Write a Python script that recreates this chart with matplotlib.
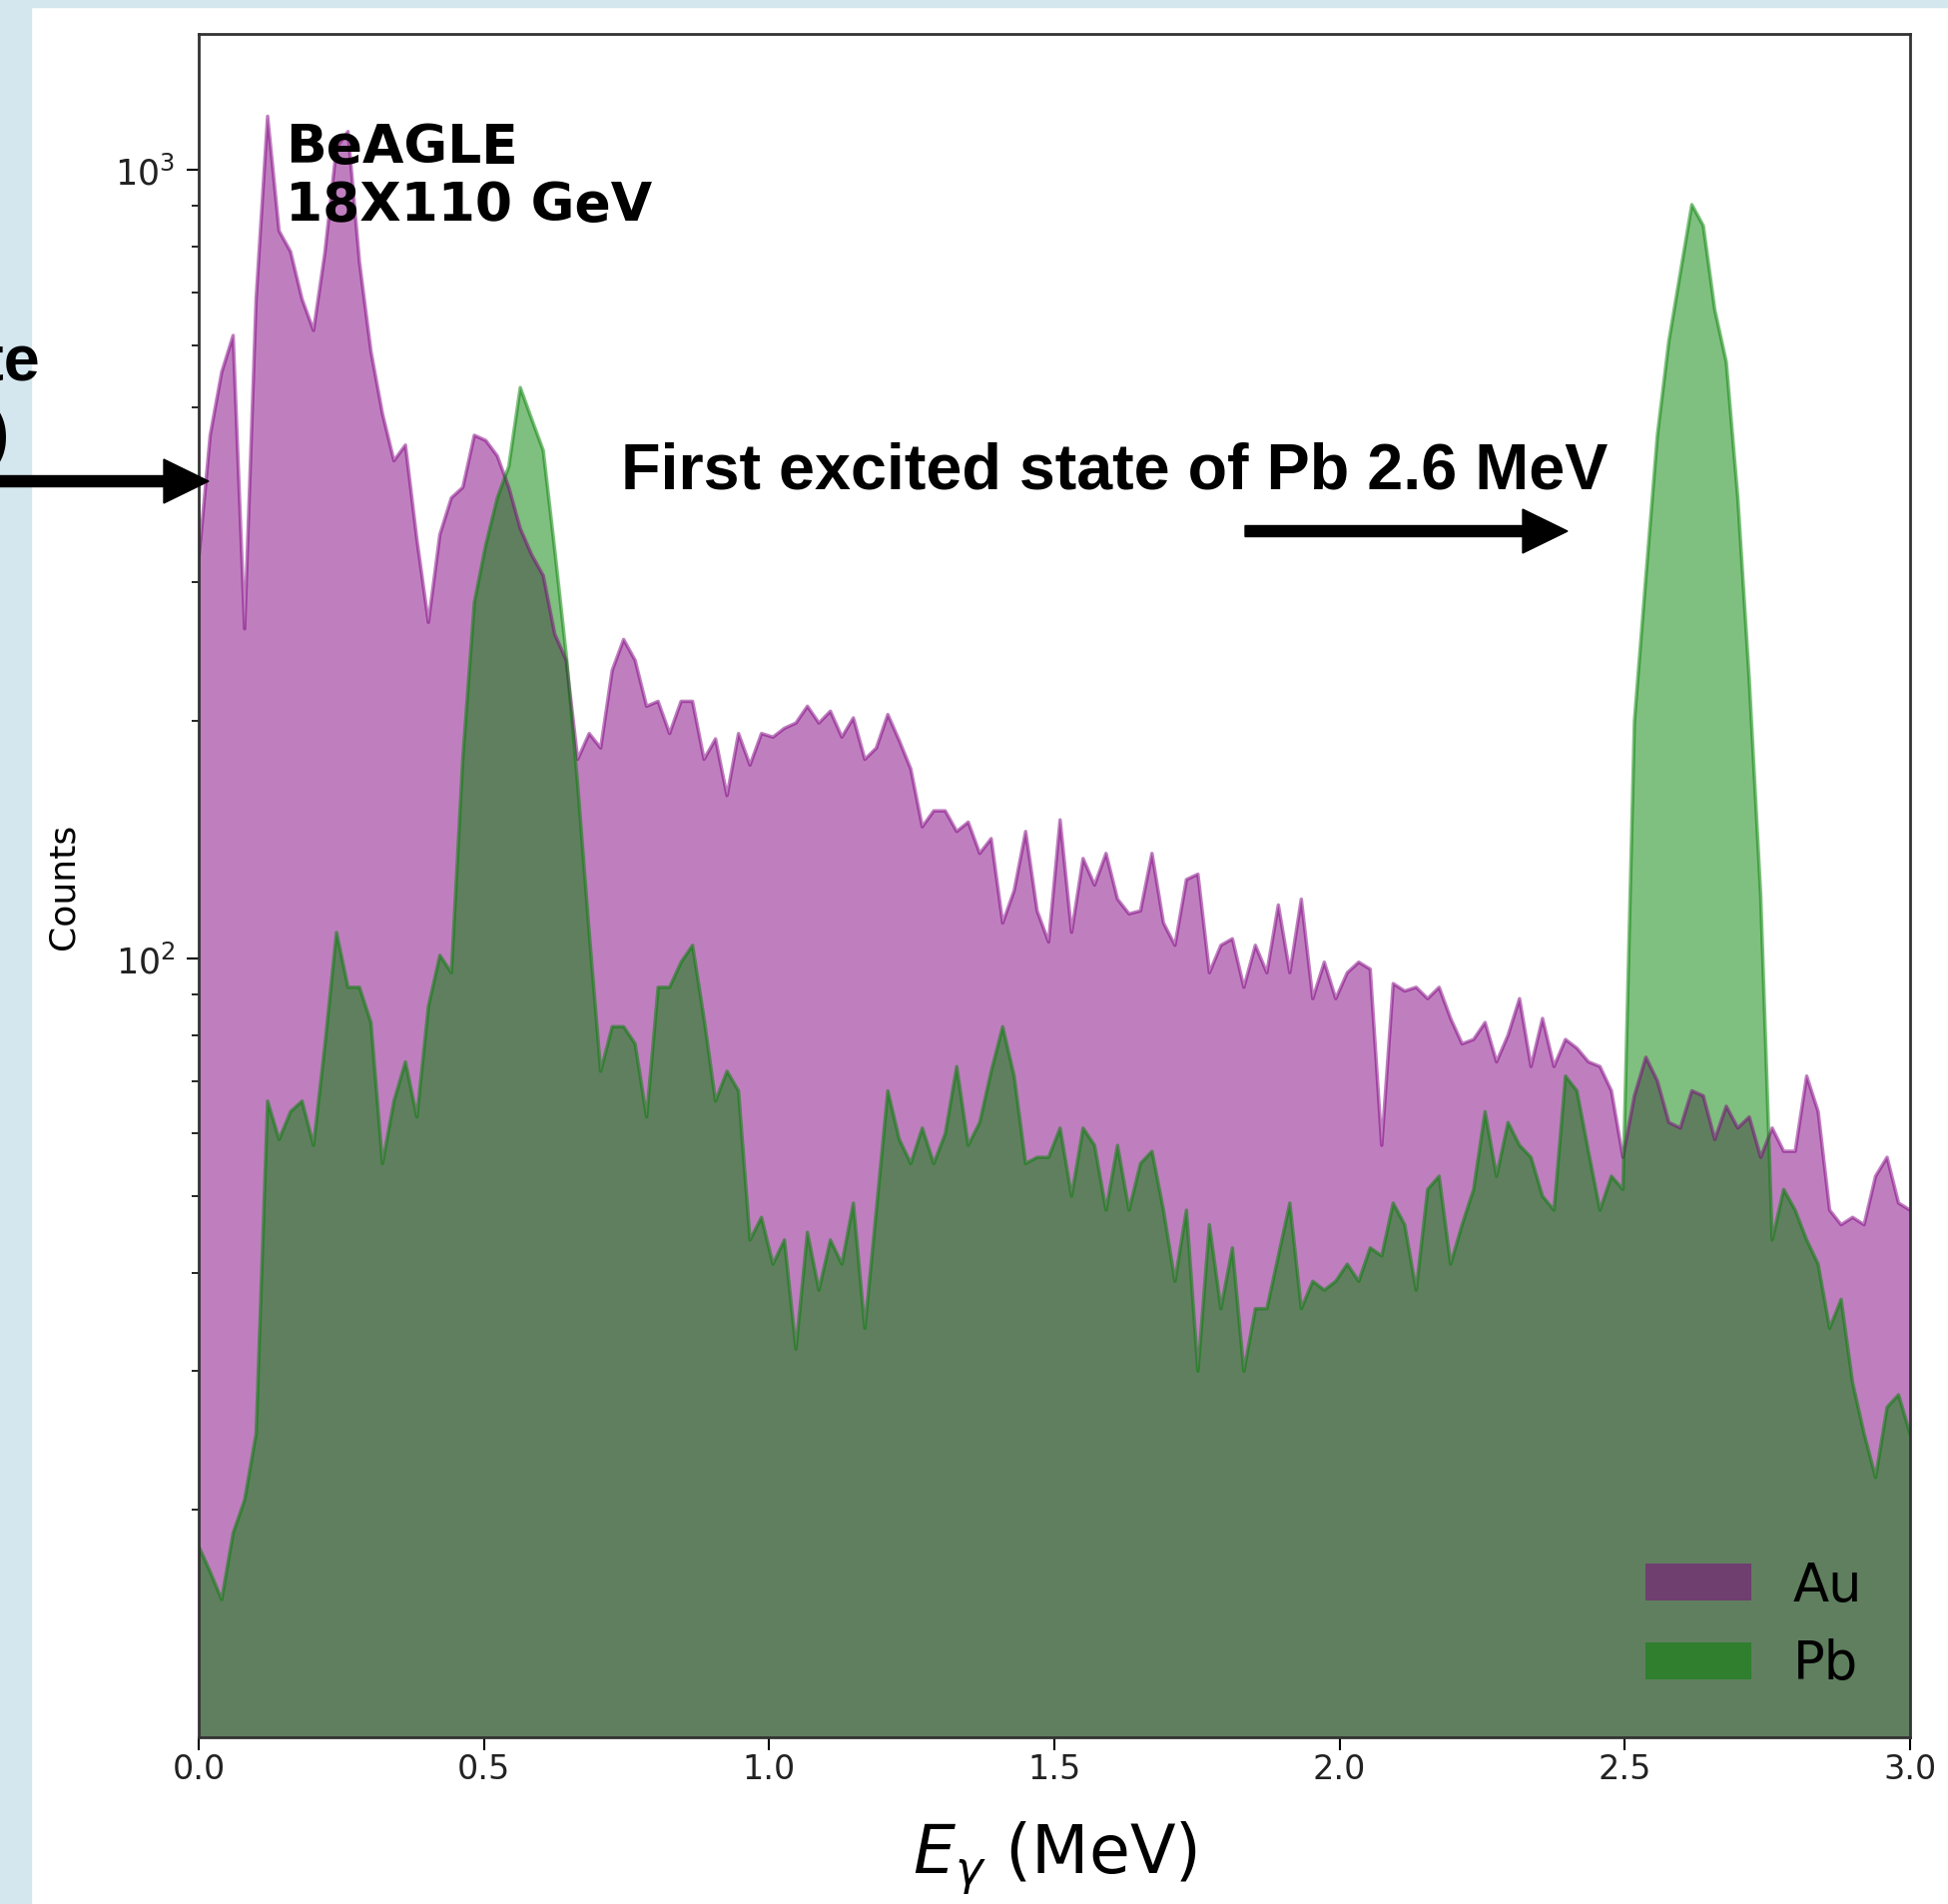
import numpy as np
import matplotlib
matplotlib.use("Agg")
import matplotlib.pyplot as plt
from matplotlib.patches import FancyArrow, Rectangle
from matplotlib.transforms import Affine2D


W, H = 1951, 1908

# gamma energy spectrum, 150 points spread over 0 to 3 MeV
E_MIN, E_MAX, N_BINS = 0.0, 3.0, 150

au_counts = [
    320, 461, 554, 617, 262, 686, 1170, 837, 788, 686,
    626, 788, 1068, 1119, 764, 589, 491, 428, 448, 340,
    267, 345, 384, 396, 461, 454, 434, 396, 351, 325,
    306, 258, 239, 179, 193, 185, 232, 254, 239, 209,
    212, 193, 212, 212, 179, 190, 161, 193, 176, 193,
    191, 196, 199, 209, 199, 206, 191, 202, 179, 185,
    204, 189, 174, 147, 154, 154, 145, 149, 136, 142,
    111, 122, 145, 115, 105, 150, 108, 134, 124, 136,
    119, 114, 115, 136, 111, 104, 126, 128, 96, 104,
    106, 92, 104, 96, 117, 96, 119, 89, 99, 89,
    96, 99, 97, 58, 93, 91, 92, 89, 92, 84,
    78, 79, 83, 74, 80, 89, 73, 84, 73, 79,
    77, 74, 73, 68, 56, 67, 75, 70, 62, 61,
    68, 67, 59, 65, 61, 63, 56, 61, 57, 57,
    71, 64, 48, 46, 47, 46, 53, 56, 49, 48,
]

pb_counts = [
    18, 16.7, 15.4, 18.7, 20.6, 25, 66, 59, 64, 66,
    58, 78, 108, 92, 92, 83, 55, 66, 74, 63,
    87, 101, 96, 180, 283, 335, 384, 421, 530, 483,
    441, 330, 243, 166, 108, 72, 82, 82, 78, 63,
    92, 92, 99, 104, 84, 66, 72, 68, 44, 47,
    41, 44, 32, 45, 38, 44, 41, 49, 34, 48,
    68, 59, 55, 61, 55, 60, 73, 58, 62, 72,
    82, 71, 55, 56, 56, 61, 50, 61, 58, 48,
    58, 48, 55, 57, 48, 39, 48, 30, 46, 36,
    43, 30, 36, 36, 42, 49, 36, 39, 38, 39,
    41, 39, 43, 42, 49, 46, 38, 51, 53, 41,
    46, 51, 64, 53, 62, 58, 56, 50, 48, 71,
    68, 57, 48, 53, 51, 200, 305, 461, 607, 741,
    904, 850, 665, 571, 385, 226, 120, 44, 51, 48,
    44, 41, 34, 37, 29, 25, 22, 27, 28, 25,
]

series_labels = ["Au", "Pb"]
series_colors = ["purple", "green"]
x_ticks = [0.0, 0.5, 1.0, 1.5, 2.0, 2.5, 3.0]


def main() -> None:
    fig = plt.figure(figsize=(W / 100, H / 100), dpi=100)
    fig.patch.set_facecolor("white")
    px = Affine2D().scale(1 / W, 1 / H) + fig.transFigure  # pixel coords, origin bottom-left

    # light blue frame of the screenshot
    fig.add_artist(Rectangle((0, 0), 31, H, transform=px, color="#d4e6ee", zorder=0))
    fig.add_artist(Rectangle((0, H - 8), W, 8, transform=px, color="#d4e6ee", zorder=0))

    ax = fig.add_axes([199 / W, 1 - 1741 / H, (1913 - 199) / W, (1741 - 34.5) / H])
    ax.set_yscale("log")

    energies = np.linspace(E_MIN, E_MAX, N_BINS)
    for counts, label, color in zip([au_counts, pb_counts], series_labels, series_colors):
        ax.fill_between(energies, 1, counts, color=color, alpha=0.5, linewidth=0, label=label)
        ax.plot(energies, counts, color=color, alpha=0.5, linewidth=2.5)

    ax.set_xlim(0, 3.0)
    ax.set_ylim(10.3, 1490)
    ax.set_xticks(x_ticks)

    ax.tick_params(axis="both", which="major", length=9, width=1.5, labelcolor="#222222")
    ax.tick_params(axis="x", which="major", labelsize=24, pad=2)
    ax.tick_params(axis="y", which="major", labelsize=25, pad=8)
    ax.tick_params(axis="y", which="minor", length=5, width=1.2)
    for spine in ax.spines.values():
        spine.set_linewidth(2)
        spine.set_color("#333333")

    ax.set_xlabel(r"$E_\gamma$ (MeV)", fontsize=48)
    ax.xaxis.set_label_coords(0.5, -0.048)
    ax.set_ylabel("Counts", fontsize=26)
    ax.yaxis.set_label_coords(-0.069, 0.5)

    ax.legend(loc="lower right", frameon=False, fontsize=38, borderaxespad=0.5)

    ax.text(0.0508, 0.9487, "BeAGLE\n18X110 GeV", transform=ax.transAxes,
            fontsize=38.5, fontweight="bold", family="DejaVu Sans", va="top", ha="left",
            linespacing=1.15, zorder=5)

    bold_arial = dict(family="Liberation Sans", fontweight="bold", fontsize=46.5, zorder=5)
    fig.text(622, H - 489, "First excited state of Pb 2.6 MeV", transform=px,
             ha="left", va="baseline", **bold_arial)
    fig.add_artist(FancyArrow(1247, H - 533, 1570 - 1247, 0, width=11, head_width=44,
                              head_length=45, length_includes_head=True, color="black",
                              transform=px, zorder=5))

    # annotation cut off at the left edge of the screenshot
    fig.text(40, H - 382, "state", transform=px, ha="right", va="baseline", **bold_arial)
    fig.text(10, H - 455, "(Au)", transform=px, ha="right", va="baseline", **bold_arial)
    fig.add_artist(FancyArrow(-10, H - 483, 219, 0, width=11, head_width=44,
                              head_length=45, length_includes_head=True, color="black",
                              transform=px, zorder=5))

    fig.savefig("out.png", dpi=100)


if __name__ == "__main__":
    main()
